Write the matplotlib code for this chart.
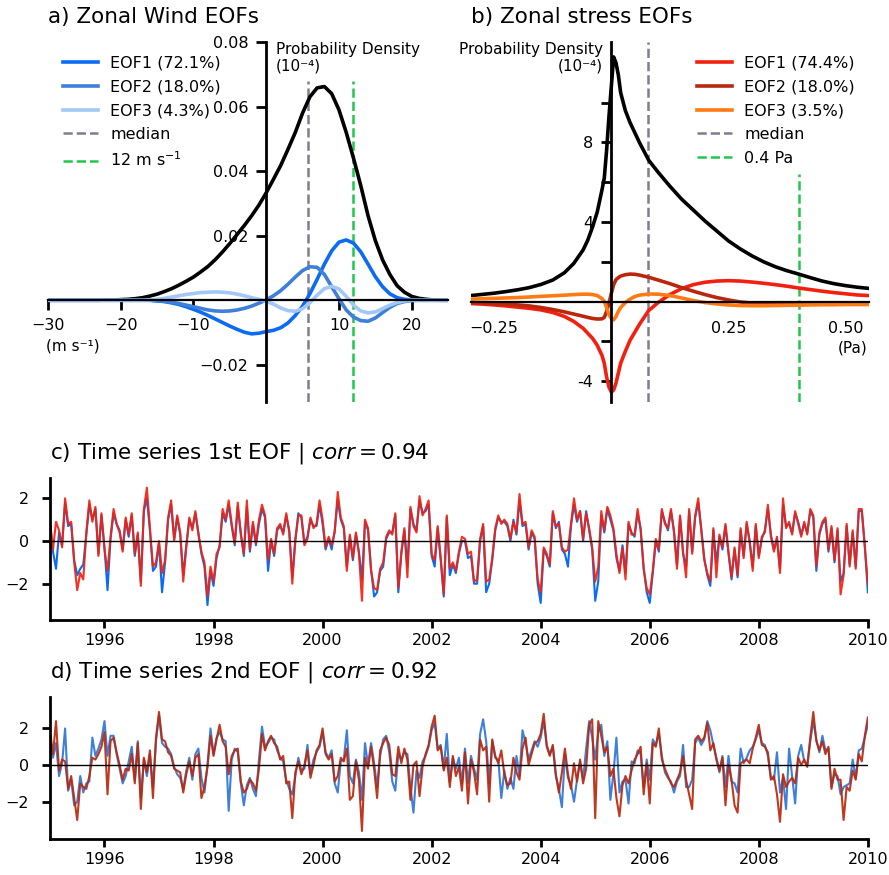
import numpy as np
import matplotlib.pyplot as plt

# ---- a) zonal wind pdf and EOFs (x in m/s)
u = np.arange(-30, 26)
pdf_u = [0, 0, 0, 0, 0, 0, 0, 0, 0.0001, 0.0001, 0.0002, 0.0003, 0.0005,
         0.0008, 0.0013, 0.0019, 0.0027, 0.0036, 0.0047, 0.0059, 0.0072, 0.0088,
         0.0105, 0.0126, 0.0150, 0.0176, 0.0204, 0.0232, 0.0262, 0.0295, 0.0333,
         0.0375, 0.0418, 0.0468, 0.0520, 0.0580, 0.0630, 0.0658, 0.0662, 0.0640,
         0.0590, 0.0520, 0.0440, 0.0355, 0.0262, 0.0185, 0.0125, 0.0080, 0.0045,
         0.0025, 0.0012, 0.0006, 0.0003, 0.0001, 0, 0]
eof1_u = [0] * 15 + [-0.0002, -0.0004, -0.0008, -0.0013, -0.0020, -0.0028, -0.0037,
          -0.0047, -0.0058, -0.0069, -0.0080, -0.0090, -0.0099, -0.0104, -0.0102,
          -0.0097, -0.0093, -0.0085, -0.0070, -0.0047, -0.0018, 0.0020, 0.0065,
          0.0112, 0.0153, 0.0180, 0.0187, 0.0177, 0.0150, 0.0112, 0.0073, 0.0042,
          0.0020, 0.0008, 0.0003, 0.0001] + [0] * 5
eof2_u = [0] * 15 + [-0.0001, -0.0003, -0.0006, -0.0010, -0.0015, -0.0020, -0.0025,
          -0.0030, -0.0033, -0.0034, -0.0033, -0.0030, -0.0025, -0.0018, -0.0009,
          0.0001, 0.0014, 0.0030, 0.0050, 0.0072, 0.0092, 0.0104, 0.0102, 0.0080,
          0.0042, 0.0005, -0.0030, -0.0052, -0.0063, -0.0065, -0.0055, -0.0038,
          -0.0022, -0.0010, -0.0004, -0.0001] + [0] * 5
eof3_u = [0] * 14 + [0.0001, 0.0003, 0.0006, 0.0010, 0.0014, 0.0018, 0.0021, 0.0024,
          0.0025, 0.0026, 0.0025, 0.0023, 0.0019, 0.0014, 0.0008, 0.0003, -0.0003,
          -0.0012, -0.0024, -0.0032, -0.0034, -0.0026, -0.0008, 0.0016, 0.0036,
          0.0043, 0.0035, 0.0012, -0.0015, -0.0033, -0.0039, -0.0036, -0.0026,
          -0.0015, -0.0007, -0.0002] + [0] * 6
u_median = 5.8
u_thresh = 12

# ---- b) zonal stress pdf and EOFs (x in Pa)
tau = [-0.30, -0.275, -0.25, -0.225, -0.20, -0.175, -0.15, -0.125, -0.10,
       -0.08, -0.06, -0.05, -0.04, -0.03, -0.02, -0.015, -0.01, -0.005, 0.0,
       0.005, 0.01, 0.015, 0.02, 0.03, 0.04, 0.05, 0.06, 0.08, 0.10,
       0.125, 0.15, 0.175, 0.20, 0.225, 0.25, 0.275, 0.30, 0.325, 0.35, 0.375,
       0.40, 0.425, 0.45, 0.475, 0.50, 0.525, 0.55]
pdf_tau = [0.30, 0.36, 0.42, 0.50, 0.59, 0.70, 0.86, 1.08, 1.45,
           1.92, 2.60, 3.10, 3.75, 4.50, 5.60, 6.20, 7.60, 9.30, 10.8,
           12.3, 12.0, 11.4, 10.5, 9.6, 9.0, 8.5, 8.0, 7.1, 6.5,
           5.8, 5.15, 4.6, 4.05, 3.55, 3.05, 2.65, 2.3, 2.0, 1.75, 1.55,
           1.38, 1.2, 1.03, 0.9, 0.8, 0.72, 0.66]
eof1_tau = [-0.10, -0.13, -0.17, -0.22, -0.28, -0.34, -0.42, -0.55, -0.75,
            -1.0, -1.35, -1.6, -1.85, -2.2, -2.7, -3.1, -3.8, -4.3, -4.55,
            -4.45, -4.1, -3.6, -3.1, -2.5, -1.95, -1.55, -1.15, -0.45, -0.05,
            0.35, 0.65, 0.85, 0.97, 1.03, 1.05, 1.03, 0.98, 0.92, 0.85, 0.77,
            0.68, 0.6, 0.52, 0.45, 0.39, 0.33, 0.3]
eof2_tau = [-0.05, -0.07, -0.10, -0.13, -0.17, -0.22, -0.30, -0.40, -0.52,
            -0.63, -0.74, -0.80, -0.85, -0.88, -0.87, -0.80, -0.50, -0.10, 0.40,
            0.85, 1.10, 1.20, 1.28, 1.35, 1.38, 1.37, 1.33, 1.22, 1.08,
            0.90, 0.70, 0.52, 0.35, 0.20, 0.08, -0.02, -0.08, -0.12, -0.13, -0.13,
            -0.13, -0.12, -0.11, -0.10, -0.09, -0.08, -0.07]
eof3_tau = [0.12, 0.14, 0.16, 0.18, 0.20, 0.23, 0.26, 0.29, 0.32,
            0.35, 0.37, 0.37, 0.35, 0.30, 0.15, 0.0, -0.30, -0.65, -0.85,
            -0.92, -0.75, -0.50, -0.30, -0.05, 0.12, 0.25, 0.32, 0.38, 0.37,
            0.30, 0.18, 0.05, -0.05, -0.12, -0.17, -0.20, -0.21, -0.21, -0.20, -0.19,
            -0.18, -0.17, -0.16, -0.16, -0.15, -0.15, -0.15]
tau_median = 0.078
tau_thresh = 0.4

# ---- c) / d) principal component time series, 18 values per year from 1995
steps_per_year = 18
wind_pc1 = [
    0.8, -0.5, -1.3, 0.4, -0.2, 1.8, 0.7, 0.8, -0.9, -1.6, -1.3, -1.1, 0.3, 1.7, 1.0, 1.5, -0.6, 1.2,  # 1995
    -0.3, -2.3, 0.1, 1.3, 0.8, 0.5, -0.4, 1.0, 0.2, 1.2, -0.7, 0.3, -1.9, 1.4, 2.0, 0.5, -1.4, -1.2,  # 1996
    -0.1, -2.4, -1.0, 1.0, 1.7, 0.1, 1.1, 0.3, -1.6, -0.2, 1.0, 0.6, 1.3, 0.4, -0.6, -1.2, -3.0, -1.4,  # 1997
    -2.1, -0.8, -0.2, 1.3, 0.9, 1.7, 0.7, -0.2, 1.6, 0.4, -0.7, 1.6, -0.5, 0.8, -0.2, 0.8, 1.5, 1.1,  # 1998
    -1.4, 0.0, -0.7, 0.5, 0.7, 0.4, 1.2, 0.5, -1.7, 0.0, 1.3, 1.1, -0.1, 0.2, 1.0, 0.7, 0.7, 1.7,  # 1999
    0.8, -0.4, 0.1, -0.4, 0.5, 1.9, 1.0, 0.6, -1.2, 0.2, -0.9, 0.3, -0.5, -1.8, 0.9, 0.5, -1.3, -2.6,  # 2000
    -2.4, -1.4, -1.2, 0.1, 0.4, 0.4, 1.2, -2.4, -0.6, 0.5, -1.2, 1.5, 0.8, 0.5, 1.9, 1.3, 1.4, 1.7,  # 2001
    -0.7, -1.2, 0.6, -0.9, -2.6, 1.1, -1.6, -1.1, -1.5, -0.6, 0.0, 0.0, -0.8, -0.7, -2.0, -2.0, 0.0, 0.7,  # 2002
    -2.4, -2.0, -0.9, 0.5, 1.1, 0.9, 0.9, 0.7, 0.0, 1.0, 0.3, 1.9, 0.7, 0.8, -0.4, 0.4, 0.1, -2.0,  # 2003
    -2.9, -0.4, -0.7, -1.2, 1.3, 0.6, 0.9, -0.4, -0.6, -1.2, 0.7, 1.7, 0.9, 1.4, 0.0, 1.4, 0.5, -0.4,  # 2004
    -2.8, -1.9, 1.2, 0.4, 1.5, 1.0, 0.5, -0.8, -1.4, -0.2, -1.5, 0.8, 0.4, 0.2, 1.3, 0.6, -1.3, -2.4,  # 2005
    -2.9, -1.5, 0.0, -0.5, 1.4, 0.9, 0.5, 1.4, 0.5, -1.1, 1.1, -0.6, -1.2, 1.4, -0.5, 1.1, 1.8, 0.6,  # 2006
    -0.8, -1.6, -2.1, 0.5, -1.0, 0.2, -0.4, 0.7, -0.6, -1.8, -0.4, -1.7, 0.5, -0.7, 0.8, 0.0, -1.2, 0.7,  # 2007
    -0.7, 0.1, 0.5, 1.5, 0.3, -0.4, 0.1, -1.3, 1.7, 0.7, 0.8, 0.4, 1.3, 0.9, 0.3, 0.8, 0.4, 1.4,  # 2008
    1.1, -1.4, 0.3, 0.8, 1.0, -0.5, 0.6, -1.0, 0.5, -1.9, -1.5, 0.7, -1.1, 0.4, -1.2, 1.4, 1.4, -0.2, -2.4,  # 2009
]
stress_pc1 = [
    1.0, -0.4, 0.9, 0.5, -0.3, 2.0, 0.8, 0.9, -1.0, -2.3, -1.5, -1.8, 0.4, 1.9, 0.9, 1.6, -0.7, 1.3,
    -0.4, -1.4, 0.2, 1.5, 0.8, 0.4, -0.5, 1.1, 0.3, 1.3, -0.6, 0.4, -2.1, 1.5, 2.5, 0.6, -1.2, -1.0,
    0.0, -1.5, -0.9, 1.1, 1.9, 0.0, 1.2, 0.4, -1.9, -0.3, 1.1, 0.5, 1.4, 0.3, -0.5, -1.0, -2.6, -1.2,
    -1.9, -0.6, -0.3, 1.5, 1.0, 1.9, 0.8, -0.1, 1.8, 0.3, -0.6, 1.9, -0.4, 0.9, -0.1, 1.0, 1.7, 1.2,
    -0.9, 0.1, -0.6, 0.6, 0.8, 0.3, 1.3, 0.4, -2.0, 0.1, 1.2, 1.2, -0.2, 0.1, 1.1, 0.6, 0.8, 1.9,
    1.0, -0.3, 0.2, -0.2, 0.4, 2.3, 1.1, 0.7, -1.4, 0.3, -0.8, 0.4, -0.6, -2.8, 1.0, 0.6, -1.4, -2.2,
    -2.3, -1.3, -1.0, 0.2, 0.5, 0.3, 1.3, -2.2, -0.5, 0.6, -1.7, 1.6, 0.7, 0.4, 2.1, 1.2, 1.5, 1.9,
    -0.6, -0.9, 0.7, -0.8, -2.5, 1.2, -1.3, -1.0, -1.4, -0.5, 0.2, 0.1, -0.6, -0.5, -1.9, -1.8, 0.1, 0.8,
    -1.9, -1.8, -0.8, 0.6, 1.2, 0.8, 1.0, 0.8, 0.1, 0.9, 0.4, 2.2, 0.8, 0.9, -0.3, 0.5, 0.2, -1.8,
    -2.4, -0.3, -0.6, -1.1, 1.4, 0.7, 0.8, -0.3, -0.5, -0.4, 0.8, 2.0, 1.0, 1.4, 0.1, 1.3, 0.6, -0.3,
    -1.9, -1.2, 1.4, 0.5, 1.6, 1.2, 0.6, -0.6, -1.5, -0.3, -1.8, 0.9, 0.3, 0.3, 1.5, 0.5, -1.3, -2.2,
    -2.5, -1.4, 0.1, -0.4, 1.5, 0.8, 0.6, 1.5, 0.4, -1.3, 1.2, -0.5, -1.7, 1.5, -0.6, 1.2, 2.0, 0.5,
    -0.9, -1.5, -1.9, 0.6, -1.7, 0.3, -0.3, 0.8, -0.5, -1.7, -0.3, -1.6, 0.6, -0.8, 0.9, -0.1, -1.4, 0.8,
    -0.8, 0.2, 0.4, 1.7, 0.2, -0.5, 0.2, -1.5, 2.0, 0.6, 0.9, 0.3, 1.4, 0.8, 0.2, 0.9, 0.3, 1.5,
    1.2, -1.2, 0.4, 0.9, 1.1, -0.4, 0.7, -0.9, 0.6, -2.5, -1.6, 0.8, -1.2, 0.5, -1.3, 1.5, 1.5, -0.3, -2.0,
]
wind_pc2 = [
    1.5, 0.4, 1.2, -0.6, 0.1, 2.0, -1.4, -0.8, -2.2, -2.0, -0.6, -1.5, -1.0, -0.9, 1.5, 0.5, 0.9, 1.4,
    2.4, 0.5, 1.6, 1.6, 0.6, -0.2, -1.0, -0.6, 0.2, 1.0, -0.8, 1.3, -1.8, 0.3, -0.6, 0.6, -1.2, 1.3,
    2.7, 1.2, 1.0, 0.9, 0.6, -0.1, -0.5, -0.7, -1.3, -0.3, 0.4, -0.8, 0.6, 0.9, -0.7, -1.5, 0.0, 2.0,
    0.6, 1.5, 1.8, 1.4, 1.3, -2.5, 0.3, 0.9, 0.7, -1.0, -2.2, -1.1, -0.7, -1.3, -1.7, 0.3, 2.1, 1.0,
    1.2, 1.5, 1.4, 0.8, 0.4, 0.2, -0.8, -1.3, -1.6, -0.6, 0.4, -0.3, -0.2, 1.1, -0.5, 0.3, 0.7, 1.0,
    1.8, 0.7, 0.4, 0.8, -1.0, -1.5, 0.2, 0.3, 1.9, -0.6, -1.0, 0.3, -0.4, -1.9, 1.2, 0.0, 1.2, 0.1,
    -1.2, 0.5, 1.4, 1.6, 0.7, -0.9, -1.4, 0.6, 0.3, 0.7, 0.6, -1.2, -2.6, -0.3, -0.7, 0.2, 0.5, 1.0,
    1.9, 2.3, 0.9, 1.1, -0.2, 1.7, -0.9, 0.4, -0.2, 0.4, -1.0, 0.9, -1.0, 0.5, -0.2, -0.8, 1.7, 2.5,
    1.3, -1.0, 1.3, 0.4, 0.3, -1.8, -0.3, -1.3, -0.7, -1.3, 0.5, -0.6, 1.9, 1.2, 0.3, 0.8, 1.3, 1.0,
    1.5, 2.4, 1.1, 0.6, 1.0, -0.6, -1.3, -2.3, 0.6, -0.7, -1.1, -2.0, -0.8, 0.2, -0.8, 0.9, 2.4, 1.5,
    0.3, 1.8, 2.2, 0.5, 1.3, -1.9, -0.5, 1.5, -1.5, -0.9, -0.8, -2.1, 0.2, 0.1, 0.8, 0.6, -1.2, 0.3,
    -0.8, 1.4, 1.1, 1.7, 0.5, -0.4, -0.7, -0.9, -1.5, -0.9, -0.6, 1.1, -1.2, -1.2, -0.8, 1.2, 1.5, 1.1,
    1.4, 2.4, 1.9, 1.1, 0.4, -0.4, 0.5, -1.2, 0.5, -0.9, -1.0, -1.5, 0.9, 0.1, 0.4, 0.8, 1.0, 1.4,
    1.9, 1.2, 1.1, 0.5, -0.7, -0.8, 0.7, -1.5, -0.7, -2.4, 0.9, -0.6, -2.1, 0.5, 1.1, 0.2, 0.0, 1.3,
    2.4, 1.4, 0.7, 1.6, 0.8, 0.9, -1.2, -0.5, -0.6, -1.6, -1.2, -1.1, -1.0, 0.3, -0.7, 0.8, 0.9, 1.5, 2.2,
]
stress_pc2 = [
    1.9, 0.6, 2.4, -0.3, 0.3, 0.2, -1.3, -0.6, -1.8, -3.0, -1.0, -1.2, -1.3, -0.6, 0.4, 0.3, 0.6, 1.0,
    1.8, -1.6, 1.3, 1.5, 0.7, 0.0, -0.8, -0.2, -0.3, 0.6, -1.0, 1.2, -2.4, 0.4, -0.4, 0.8, -1.8, 1.5,
    2.9, 1.4, 1.3, 0.7, 0.5, -0.2, -0.3, -0.4, -1.5, -0.5, 0.2, -0.6, 0.4, 0.6, -1.8, -1.2, -0.1, 1.6,
    0.5, 1.4, 2.2, 1.3, 1.0, -0.5, 0.5, 0.8, 0.9, -0.9, -1.5, -1.3, -0.8, -1.0, -1.4, -0.2, 1.7, 0.8,
    1.3, 1.6, 1.2, 1.0, 0.3, 0.5, -1.0, -0.9, -2.9, -0.4, 0.2, -0.5, 0.0, 0.8, -0.7, 0.0, 0.8, 1.1,
    2.0, 0.6, 0.3, 0.6, -0.9, -0.6, 0.4, 0.2, 0.9, -1.9, -1.7, 0.2, -0.8, -3.6, 0.4, -0.2, 1.0, -0.2,
    -1.8, 0.8, 1.2, 1.5, 1.1, -0.5, -0.6, 1.0, 0.1, 0.9, 0.3, -1.9, 0.0, 0.2, -1.7, -0.1, 0.6, 1.1,
    2.1, 2.7, 0.8, 1.0, -0.3, 0.4, -1.2, 0.5, -0.6, -0.1, -1.4, 0.7, -2.1, 0.3, -0.4, -1.6, 1.4, 0.8,
    1.0, -2.0, 1.4, 0.5, 0.1, 0.8, -0.5, -1.1, -1.0, 0.4, -0.4, -0.8, 0.9, 1.5, 0.0, 0.6, 1.2, 1.3,
    1.7, 2.8, 1.0, 0.5, 1.1, -0.5, -1.5, -0.4, 0.9, -0.5, -1.3, 0.1, -0.9, 0.3, -1.0, -0.2, 2.2, 2.5,
    -2.9, 2.4, 1.6, 0.7, 1.0, -0.6, -0.2, -1.8, -2.8, -1.1, -0.6, -1.0, -0.3, 0.3, 0.6, 1.0, -1.6, 0.1,
    -2.1, 1.2, 1.0, 2.0, 0.3, -0.2, -0.6, -1.0, -1.2, -0.8, -0.4, 0.5, -0.8, -1.6, -2.4, 1.4, 1.6, 1.3,
    1.5, 2.3, 0.8, 1.2, 0.3, -0.3, 0.4, -2.2, 0.0, -0.8, -2.2, -2.6, 0.1, 0.2, 0.3, 0.1, 0.9, 1.5,
    2.2, 1.1, 1.0, 0.7, -0.8, -0.6, -1.6, -3.1, -0.5, -1.2, -0.9, -0.7, -1.0, 0.4, 0.0, 0.3, -0.1, 1.5,
    2.9, 1.3, 0.8, 1.3, 0.6, 1.0, -1.3, -0.2, -0.8, -0.8, -3.0, -1.2, -1.4, -0.3, -0.8, 0.6, 0.2, 1.6, 2.6,
]
corr1 = 0.94
corr2 = 0.92

blue1, blue2, blue3 = '#0b6cf3', '#3f7fd9', '#a3c7f7'
red1, red2, orange3 = '#f2210f', '#b9280d', '#ff7a12'
gray, green = '#7e7e8f', '#1dc84c'

fig = plt.figure(figsize=(8.89, 8.75), dpi=100)
ax_a = fig.add_axes([0.054, 0.5406, 0.45, 0.4114])
ax_b = fig.add_axes([0.5295, 0.5406, 0.448, 0.4114])
ax_c = fig.add_axes([0.0562, 0.2914, 0.920, 0.1623])
ax_d = fig.add_axes([0.0562, 0.0411, 0.920, 0.1626])

for ax in (ax_a, ax_b):
    ax.spines['left'].set_position(('data', 0))
    ax.spines['bottom'].set_position(('data', 0))
    ax.spines['right'].set_visible(False)
    ax.spines['top'].set_visible(False)
    ax.spines['left'].set_linewidth(2)
    ax.spines['bottom'].set_linewidth(1.6)
    ax.tick_params(width=2, length=7, pad=6, labelsize=11.5)

legend_kw = dict(loc='upper left', bbox_transform=fig.transFigure, frameon=False,
                 fontsize=11.5, handlelength=2.2, handletextpad=0.75,
                 labelspacing=0.55, borderpad=0, borderaxespad=0)

# panel a
ylo_a, yhi_a = -0.0315, 0.08
ax_a.set_xlim(-30, 25)
ax_a.set_ylim(ylo_a, yhi_a)
frac = (0.068 - ylo_a) / (yhi_a - ylo_a)
h4 = ax_a.axvline(u_median, ymax=frac, color=gray, ls='--', lw=1.8, label='median')
h5 = ax_a.axvline(u_thresh, ymax=frac, color=green, ls='--', lw=1.8, label='12 m s$^{-1}$')
ax_a.plot(u, pdf_u, color='k', lw=2.6)
h1, = ax_a.plot(u, eof1_u, color=blue1, lw=2.6, label='EOF1 (72.1%)')
h2, = ax_a.plot(u, eof2_u, color=blue2, lw=2.6, label='EOF2 (18.0%)')
h3, = ax_a.plot(u, eof3_u, color=blue3, lw=2.6, label='EOF3 (4.3%)')
ax_a.set_xticks([-30, -20, -10, 10, 20])
ax_a.set_yticks([-0.02, 0.02, 0.04, 0.06, 0.08])
ax_a.set_title('a) Zonal Wind EOFs', loc='left', fontsize=15.5, pad=14)
ax_a.text(0.57, 1.0, 'Probability Density\n(10\u207b\u2074)', transform=ax_a.transAxes,
          ha='left', va='top', fontsize=11, linespacing=1.15)
ax_a.text(0.0625, 0.156, '(m s\u207b\u00b9)', transform=ax_a.transAxes,
          ha='center', va='center', fontsize=11)
ax_a.legend([h1, h2, h3, h4, h5], [h.get_label() for h in (h1, h2, h3, h4, h5)],
            bbox_to_anchor=(0.0709, 0.9365), **legend_kw)

# panel b
ylo_b, yhi_b = -5.05, 13.05
ax_b.set_xlim(-0.30, 0.55)
ax_b.set_ylim(ylo_b, yhi_b)
g4 = ax_b.axvline(tau_median, color=gray, ls='--', lw=1.8, label='median')
g5 = ax_b.axvline(tau_thresh, ymax=(6.4 - ylo_b) / (yhi_b - ylo_b), color=green, ls='--',
                  lw=1.8, label='0.4 Pa')
ax_b.plot(tau, pdf_tau, color='k', lw=2.6)
g1, = ax_b.plot(tau, eof1_tau, color=red1, lw=2.6, label='EOF1 (74.4%)')
g2, = ax_b.plot(tau, eof2_tau, color=red2, lw=2.6, label='EOF2 (18.0%)')
g3, = ax_b.plot(tau, eof3_tau, color=orange3, lw=2.6, label='EOF3 (3.5%)')
ax_b.set_xticks([-0.25, 0.25, 0.5])
ax_b.tick_params(axis='x', length=0, pad=14)
ax_b.set_yticks([-4, -2, 2, 4, 6, 8, 10])
ax_b.set_yticklabels(['-4', '', '', '4', '', '8', ''])
ax_b.set_title('b) Zonal stress EOFs', loc='left', fontsize=15.5, pad=14)
ax_b.text(0.332, 1.0, 'Probability Density\n(10\u207b\u2074)', transform=ax_b.transAxes,
          ha='right', va='top', fontsize=11, linespacing=1.15, multialignment='right')
ax_b.text(0.997, 0.149, '(Pa)', transform=ax_b.transAxes, ha='right', va='center', fontsize=11)
ax_b.legend([g1, g2, g3, g4, g5], [g.get_label() for g in (g1, g2, g3, g4, g5)],
            bbox_to_anchor=(0.784, 0.9365), **legend_kw)

# panels c and d
t = 1995 + np.arange(len(wind_pc1)) / steps_per_year
series = [(ax_c, wind_pc1, stress_pc1, blue1, red1, (-3.7, 2.95),
           'c) Time series 1st EOF | $corr = %.2f$' % corr1),
          (ax_d, wind_pc2, stress_pc2, blue2, red2, (-4.04, 3.73),
           'd) Time series 2nd EOF | $corr = %.2f$' % corr2)]
for ax, w, s, cw, cs, ylim, title in series:
    ax.plot(t, w, color=cw, lw=1.5)
    ax.plot(t, s, color=cs, lw=1.5, alpha=0.92)
    ax.axhline(0, color='k', lw=1)
    ax.spines['right'].set_visible(False)
    ax.spines['top'].set_visible(False)
    ax.spines['left'].set_linewidth(2)
    ax.spines['bottom'].set_linewidth(2)
    ax.tick_params(width=2, length=6, labelsize=11.5)
    ax.tick_params(axis='y', pad=9)
    ax.set_xlim(1995, 2010)
    ax.set_ylim(*ylim)
    ax.set_xticks(range(1996, 2011, 2))
    ax.set_yticks([-2, 0, 2])
    ax.set_title(title, loc='left', fontsize=15.5, pad=14)

fig.savefig('out.png', dpi=100)
